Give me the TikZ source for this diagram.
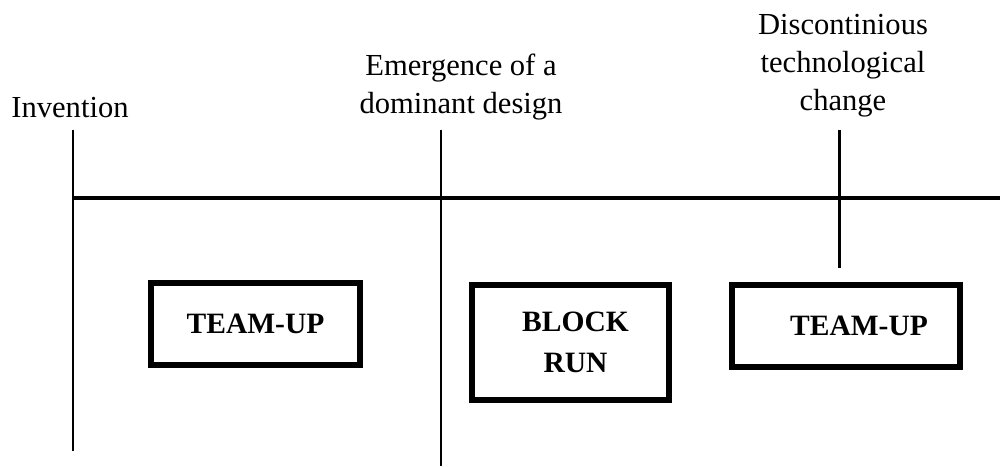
\documentclass[tikz,border=0pt]{standalone}
\usepackage{fontspec}
\setmainfont{Liberation Serif}
\usetikzlibrary{positioning}

\begin{document}
\begin{tikzpicture}[
	milestone/.style={align=center, inner sep=0pt, text depth=0pt, anchor=south,
		font=\fontsize{17.4}{21.6}\selectfont},
	stagebox/.style={draw, line width=3.2pt, align=center, inner sep=0pt,
		font=\fontsize{16.8}{23.6}\selectfont\bfseries},
	axis/.style={line width=2pt},
	marker/.style={line width=1.7pt}
	]
	\useasboundingbox (0,0) rectangle (20,9.32);

	% events on the time axis
	\node[milestone] (inv) at (1.40,6.96) {Invention};
	\node[milestone] (dom) at (9.22,7.04) {Emergence of a\\dominant design};
	\node[milestone] (disc) at (16.86,7.10) {Discontinious\\technological\\change};

	\coordinate (inv top) at (1.46,6.72);
	\coordinate (inv bot) at (1.46,0.30);
	\coordinate (dom top) at (8.82,6.72);
	\coordinate (dom bot) at (8.82,0);
	\coordinate (disc top) at (16.78,6.72);
	\coordinate (disc bot) at (16.78,3.96);
	\coordinate (axis start) at (1.46,5.36);
	\coordinate (axis end) at (20,5.36);

	\draw[axis] (axis start) -- (axis end);
	\draw[marker] (inv top) -- (inv bot);
	\draw[marker] (dom top) -- (dom bot);
	\draw[marker] (disc top) -- (disc bot);

	% strategies between the events
	\node[stagebox, minimum width=4.19cm, minimum height=1.65cm] (team1) at (5.11,2.84) {TEAM-UP};
	\node[stagebox, minimum width=3.95cm, minimum height=2.31cm] (block) at (11.41,2.47) {\hspace*{0.2cm}BLOCK\\\hspace*{0.2cm}RUN};
	\node[stagebox, minimum width=4.57cm, minimum height=1.65cm] (team2) at (16.92,2.80) {\hspace*{0.52cm}TEAM-UP};
\end{tikzpicture}
\end{document}
